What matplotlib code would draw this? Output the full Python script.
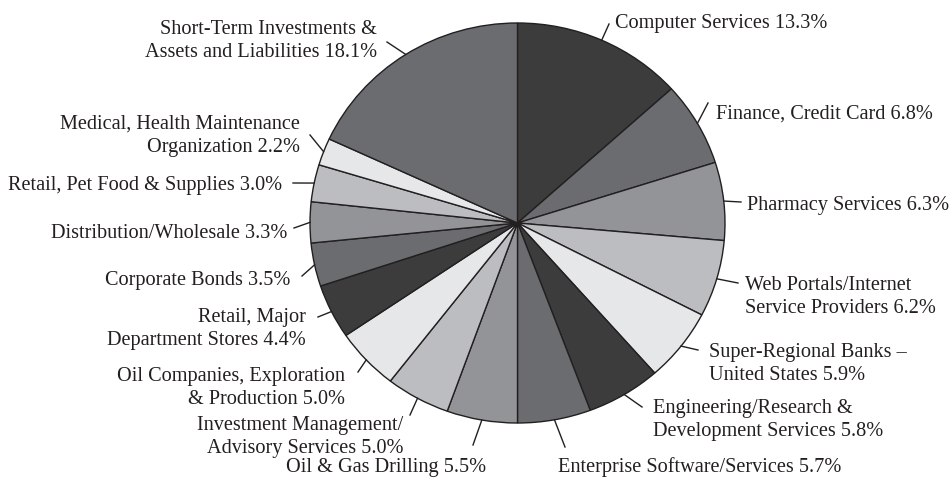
import numpy as np
import matplotlib
matplotlib.use("Agg")
import matplotlib.pyplot as plt

# portfolio sectors, clockwise from 12 o'clock
labels = ["Computer Services 13.3%",
          "Finance, Credit Card 6.8%",
          "Pharmacy Services 6.3%",
          "Web Portals/Internet\nService Providers 6.2%",
          "Super-Regional Banks \u2013\nUnited States 5.9%",
          "Engineering/Research &\nDevelopment Services 5.8%",
          "Enterprise Software/Services 5.7%",
          "Oil & Gas Drilling 5.5%",
          "Investment Management/\nAdvisory Services 5.0%",
          "Oil Companies, Exploration\n& Production 5.0%",
          "Retail, Major\nDepartment Stores 4.4%",
          "Corporate Bonds 3.5%",
          "Distribution/Wholesale 3.3%",
          "Retail, Pet Food & Supplies 3.0%",
          "Medical, Health Maintenance\nOrganization 2.2%",
          "Short-Term Investments &\nAssets and Liabilities 18.1%"]
values = [13.3, 6.8, 6.3, 6.2, 5.9, 5.8, 5.7, 5.5, 5.0, 5.0, 4.4, 3.5, 3.3, 3.0, 2.2, 18.1]

dark, mdark, mid, light, pale = "#3c3c3c", "#6b6c70", "#939497", "#bcbdc0", "#e6e7e8"
colors = [dark, mdark, mid, light, pale,
          dark, mdark, mid, light, pale,
          dark, mdark, mid, light, pale, mdark]

# label layout in pixels: text x, first baseline y, alignment, leader end
text_pos = [(615, 28, "left"), (716, 119, "left"), (747, 210, "left"),
            (745, 290, "left"), (709, 357, "left"), (653, 413, "left"),
            (558, 472, "left"), (486, 472, "right"), (403, 430, "right"),
            (345, 381, "right"), (306, 322, "right"), (290, 285, "right"),
            (287, 238, "right"), (282, 190, "right"), (300, 129, "right"),
            (377, 34, "right")]
leader_end = [(609, 24), (708, 103), (741, 202), (738, 283), (698, 350),
              (642, 407), (565, 447), (473, 445), (410, 415), (358, 372),
              (318, 317), (302, 276), (294, 228), (293, 183), (310, 135),
              (387, 42)]

W, H = 952, 478
cx, cy, rx, ry = 517.5, 223, 207.5, 200
line_step = 23
ink = "#231f20"


def px(x, y):
    return (x - cx) / rx, (cy - y) / ry


fig = plt.figure(figsize=(W / 100, H / 100), dpi=100)
ax = fig.add_axes([0, 0, 1, 1])
ax.pie(values, colors=colors, startangle=90, counterclock=False,
       wedgeprops=dict(edgecolor=ink, linewidth=1.0))
ax.set_aspect("auto")
ax.set_xlim(px(0, 0)[0], px(W, 0)[0])
ax.set_ylim(px(0, H)[1], px(0, 0)[1])
ax.axis("off")

cum = np.cumsum([0] + values)
total = cum[-1]
for i, lab in enumerate(labels):
    mid_ang = np.pi / 2 - 2 * np.pi * (cum[i] + values[i] / 2) / total
    x0, y0 = np.cos(mid_ang), np.sin(mid_ang)
    x1, y1 = px(*leader_end[i])
    ax.plot([x0, x1], [y0, y1], color=ink, lw=1.0)
    tx, ty, ha = text_pos[i]
    for k, line in enumerate(lab.split("\n")):
        ax.text(*px(tx, ty + k * line_step), line, ha=ha, va="baseline",
                fontsize=14.6, family="Liberation Serif", color=ink)

plt.savefig("out.png", dpi=100)
